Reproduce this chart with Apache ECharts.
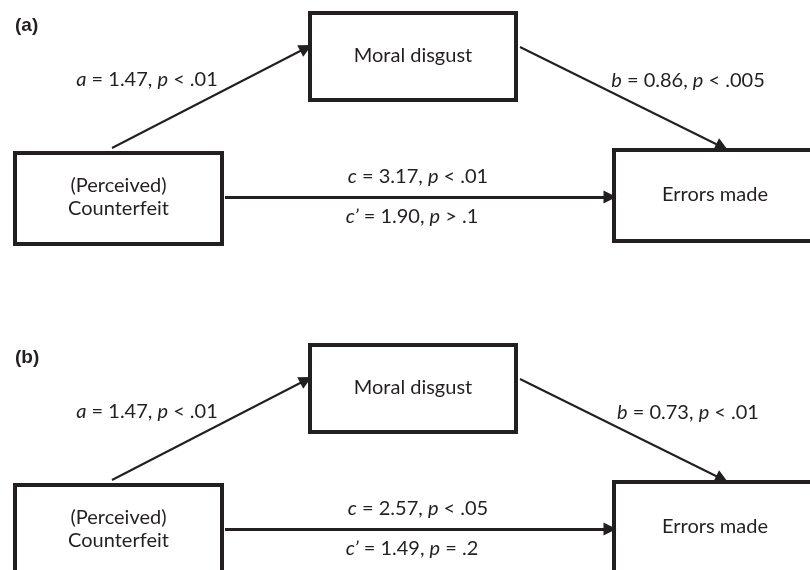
<!DOCTYPE html>
<html>
<head>
<meta charset="utf-8">
<script src="https://cdn.jsdelivr.net/npm/echarts@6/dist/echarts.min.js"></script>
<style>
    html, body { margin: 0; padding: 0; background: #fff; }
    #diagram { width: 810px; height: 570px; }
</style>
</head>
<body>
<div id="diagram"></div>
<script>
    // path coefficients, one entry per panel
    var panels = ['(a)', '(b)'];
    var aCoef = ['1.47', '1.47'];
    var aP = ['< .01', '< .01'];
    var bCoef = ['0.86', '0.73'];
    var bP = ['< .005', '< .01'];
    var cCoef = ['3.17', '2.57'];
    var cP = ['< .01', '< .05'];
    var cPrimeCoef = ['1.90', '1.49'];
    var cPrimeP = ['> .1', '= .2'];
    var nodeNames = ['Moral disgust', '(Perceived)\nCounterfeit', 'Errors made'];

    // layout of one panel in pixel units of the hidden axes
    var panelOffset = 332;
    var boxes = [[310, 13, 516, 100], [15, 153, 222, 244], [614, 150, 816, 241]];
    var arrows = [[[112, 148], [306, 48]], [[520, 47], [722, 147]], [[225, 197], [610, 197]]];
    var arrowWidth = [2, 2, 3];
    var labelPos = [[147, 80], [688, 81], [418, 177], [412, 217]];
    var panelLabelPos = [15, 26];

    var ink = '#231f20';
    var fontFamily = 'Lato, "Open Sans", sans-serif';
    var fontSize = 20;

    var boxData = [];
    var arrowData = [];
    var textData = [];
    var labelText = [];

    panels.forEach(function (p, k) {
        var dy = k * panelOffset;
        boxes.forEach(function (b, i) {
            boxData.push([b[0], b[1] + dy, b[2], b[3] + dy, i]);
        });
        arrows.forEach(function (a, i) {
            arrowData.push({
                coords: [[a[0][0], a[0][1] + dy], [a[1][0], a[1][1] + dy]],
                lineStyle: { width: arrowWidth[i] }
            });
        });
        var texts = [
            '{i|a} = ' + aCoef[k] + ', {i|p} < ' + aP[k].slice(2),
            '{i|b} = ' + bCoef[k] + ', {i|p} ' + bP[k],
            '{i|c} = ' + cCoef[k] + ', {i|p} ' + cP[k],
            '{i|c\u2019} = ' + cPrimeCoef[k] + ', {i|p} ' + cPrimeP[k]
        ];
        texts.forEach(function (t, i) {
            textData.push([labelPos[i][0], labelPos[i][1] + dy, labelText.length]);
            labelText.push(t);
        });
        textData.push([panelLabelPos[0], panelLabelPos[1] + dy, -1 - k]);
    });

    var chart = echarts.init(document.getElementById('diagram'));

    var option = {
        animation: false,
        grid: { left: 0, right: 0, top: 0, bottom: 0 },
        xAxis: { type: 'value', min: 0, max: 810, show: false },
        yAxis: { type: 'value', min: 0, max: 570, inverse: true, show: false },
        series: [
            {
                type: 'custom',
                coordinateSystem: 'cartesian2d',
                clip: false,
                data: boxData,
                renderItem: function (params, api) {
                    var p0 = api.coord([api.value(0), api.value(1)]);
                    var p1 = api.coord([api.value(2), api.value(3)]);
                    var name = nodeNames[api.value(4)];
                    return {
                        type: 'group',
                        children: [
                            {
                                type: 'rect',
                                shape: { x: p0[0], y: p0[1], width: p1[0] - p0[0], height: p1[1] - p0[1] },
                                style: { fill: '#fff', stroke: ink, lineWidth: 4 }
                            },
                            {
                                type: 'text',
                                style: {
                                    text: name,
                                    x: (p0[0] + p1[0]) / 2,
                                    y: (p0[1] + p1[1]) / 2 - 1,
                                    align: 'center',
                                    verticalAlign: 'middle',
                                    fontFamily: fontFamily,
                                    fontSize: fontSize,
                                    lineHeight: 23,
                                    fill: ink
                                }
                            }
                        ]
                    };
                }
            },
            {
                type: 'lines',
                coordinateSystem: 'cartesian2d',
                symbol: ['none', 'triangle'],
                symbolSize: [13, 13],
                lineStyle: { color: ink, width: 2, opacity: 1 },
                data: arrowData
            },
            {
                type: 'custom',
                coordinateSystem: 'cartesian2d',
                clip: false,
                data: textData,
                renderItem: function (params, api) {
                    var p = api.coord([api.value(0), api.value(1)]);
                    var idx = api.value(2);
                    if (idx < 0) {
                        return {
                            type: 'text',
                            style: {
                                text: panels[-idx - 1],
                                x: p[0], y: p[1],
                                align: 'left', verticalAlign: 'middle',
                                fontFamily: '"Liberation Sans", Arial, sans-serif',
                                fontWeight: 'bold',
                                fontSize: 19,
                                fill: ink
                            }
                        };
                    }
                    return {
                        type: 'text',
                        style: {
                            text: labelText[idx],
                            x: p[0], y: p[1],
                            align: 'center', verticalAlign: 'middle',
                            fontFamily: fontFamily,
                            fontSize: fontSize,
                            fill: ink,
                            rich: {
                                i: { fontFamily: fontFamily, fontSize: fontSize, fontStyle: 'italic', fill: ink }
                            }
                        }
                    };
                }
            }
        ]
    };

    chart.setOption(option);
</script>
</body>
</html>
